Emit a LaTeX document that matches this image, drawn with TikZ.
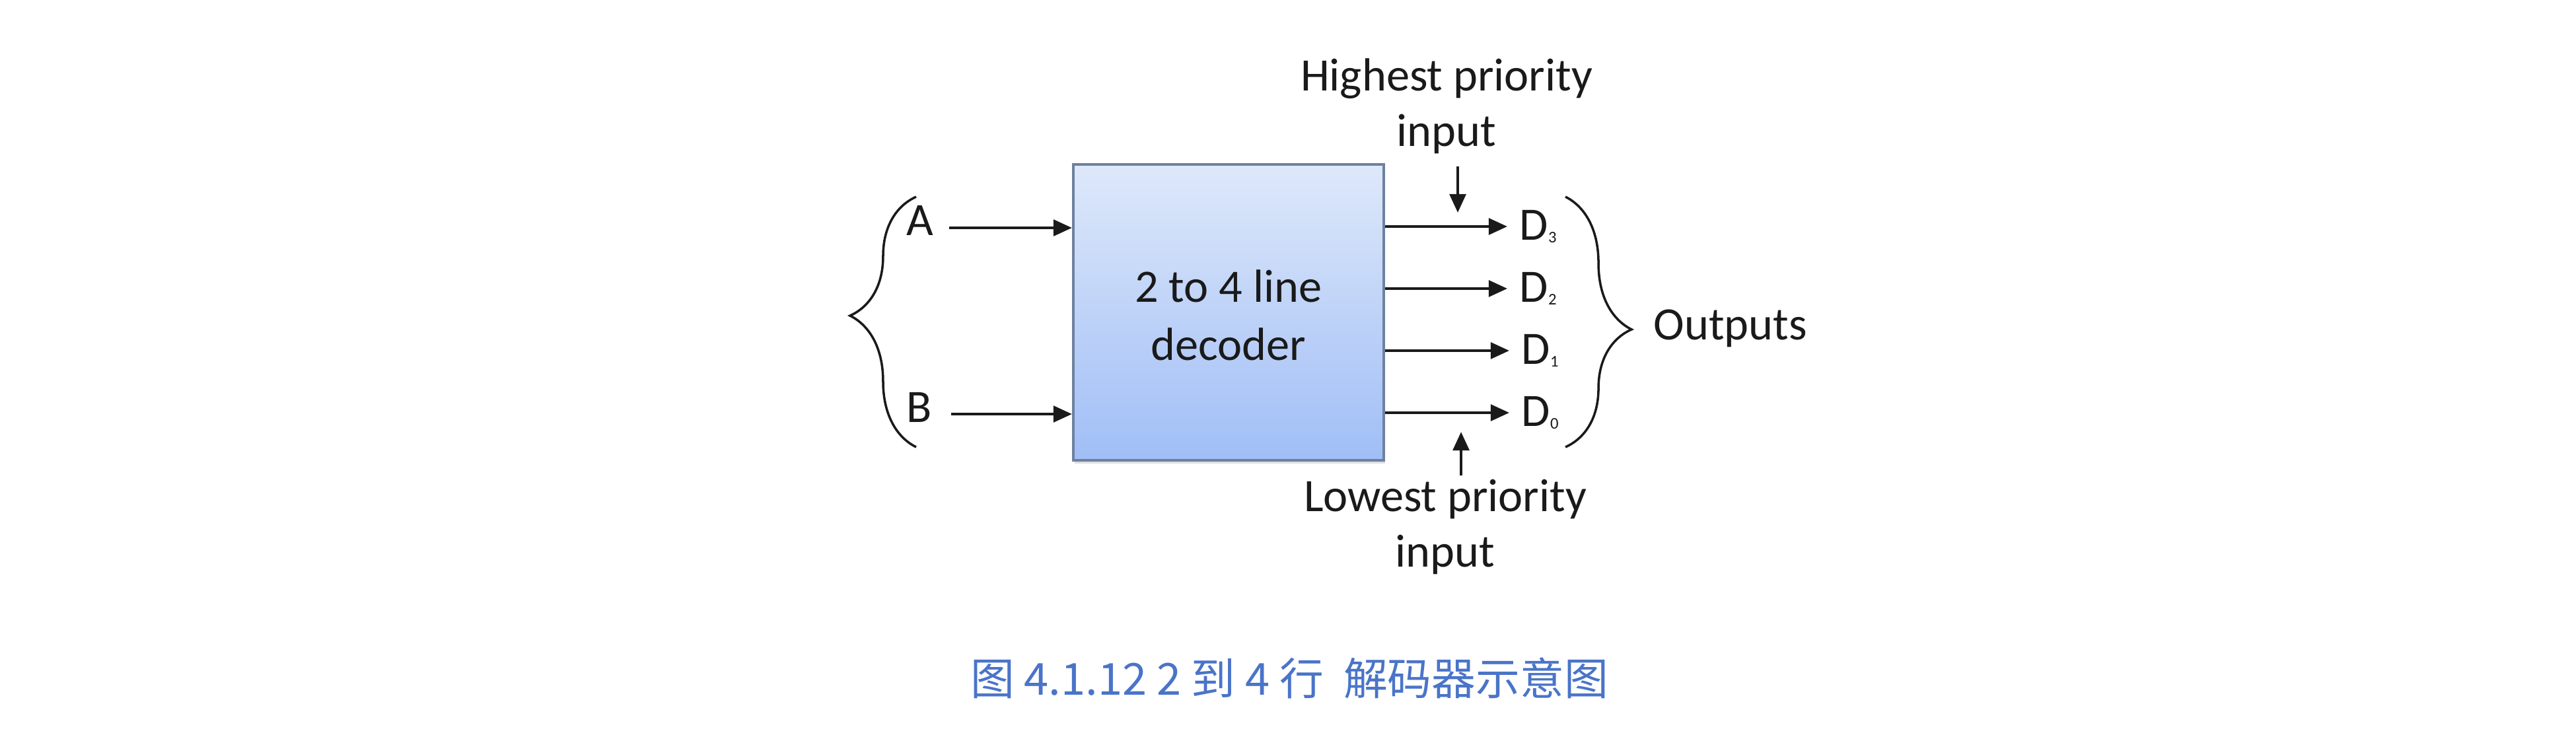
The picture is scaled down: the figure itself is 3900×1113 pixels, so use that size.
\documentclass[tikz,border=0pt]{standalone}
\usepackage{fontspec}
\setmainfont{Carlito}
\newfontfamily\cjk{Noto Sans CJK SC}
\usepackage{xcolor}
\definecolor{dBoxTop}{HTML}{DEE8FA}
\definecolor{dBoxBot}{HTML}{A0BEF6}
\definecolor{dEdge}{HTML}{6E819E}
\definecolor{dCap}{HTML}{4A74C8}
\definecolor{dInk}{HTML}{1A1A1A}
\usepackage{tikz}
\usetikzlibrary{
  arrows.meta, positioning, shadows, calc, decorations.pathreplacing
}

\tikzset{
  lbl/.style={font=\fontsize{20}{24}\selectfont, text=dInk, inner sep=0pt},
  arr/.style={-{Triangle[length=8pt,width=7pt]}, line width=1.2pt, draw=dInk},
  curly/.style={decorate, decoration={brace, amplitude=1cm, #1}, line width=1pt, draw=dInk},
  decbox/.style={draw=dEdge, line width=1.1pt, top color=dBoxTop, bottom color=dBoxBot,
    minimum width=4.7cm, minimum height=4.47cm, inner sep=0pt,
    drop shadow={shadow xshift=0.02cm, shadow yshift=-0.05cm, opacity=0.25}}
}
\newcommand{\dsub}[1]{D\raisebox{-1pt}{\fontsize{7}{7}\selectfont #1}}

\begin{document}
\begin{tikzpicture}[x=0.01cm, y=-0.01cm]
\useasboundingbox (0,0) rectangle (3900,1113);

% decoder block
\node[decbox] (dec) at (1860,473) {};
\node[lbl, align=center, font=\fontsize{20}{25}\selectfont] (dectxt) at (1860,477) {2 to 4 line\\decoder};

% inputs
\node[lbl] (A) at (1393,334) {A};
\node[lbl] (B) at (1392,617) {B};
\draw[arr] ([shift={(0.44cm,-0.11cm)}]A.center) -- ([yshift=-0.11cm]A.center -| dec.west);
\draw[arr] ([shift={(0.48cm,-0.10cm)}]B.center) -- ([yshift=-0.10cm]B.center -| dec.west);
\coordinate (lbTop) at (1387,298);
\coordinate (lbBot) at (1387,677);
\draw[curly={aspect=0.525}] (lbBot) -- (lbTop);

% outputs
\node[lbl, anchor=west] (d3) at (2300,343) {\dsub{3}};
\node[lbl, anchor=west] (d2) at (2300,437) {\dsub{2}};
\node[lbl, anchor=west] (d1) at (2303,531) {\dsub{1}};
\node[lbl, anchor=west] (d0) at (2303,625) {\dsub{0}};
\foreach \d in {d3,d2,d1,d0}
  \draw[arr] (dec.east |- \d.west) -- ([xshift=-0.18cm]\d.west);
\coordinate (rbTop) at (2370,298);
\coordinate (rbBot) at (2370,677);
\draw[curly={aspect=0.53}] (rbTop) -- (rbBot);
\node[lbl, anchor=west] (outs) at (2503,497) {Outputs};

% priority notes
\node[lbl, align=center] (hi) at (2190,161) {Highest priority\\input};
\node[lbl, align=center] (lo) at (2188,798) {Lowest priority\\input};
\coordinate (hiTip) at (2207,322);
\coordinate (loTip) at (2212,654);
\draw[arr] (hiTip |- 0,252) -- (hiTip);
\draw[arr] (loTip |- 0,720) -- (loTip);

% caption
\node[font=\cjk\fontsize{19}{22}\selectfont, text=dCap, inner sep=0pt] (cap) at (1952,1027)
  {图 4.1.12 2 到 4 行\ \ 解码器示意图};
\end{tikzpicture}
\end{document}
